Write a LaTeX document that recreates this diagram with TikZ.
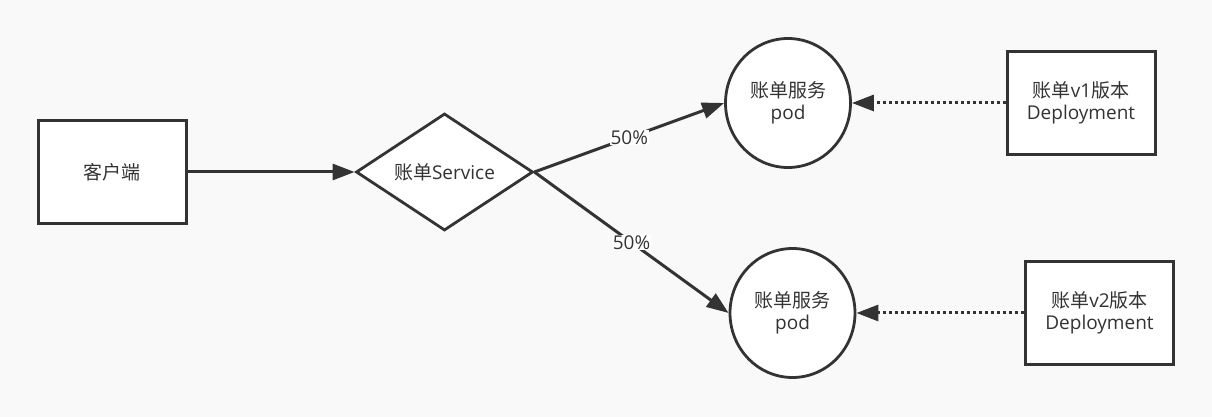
\documentclass[tikz,border=0pt]{standalone}
\usepackage{fontspec}
\setmainfont{Open Sans}
\newfontfamily\cjk{Noto Sans CJK SC}
\usepackage{tikz}
\usetikzlibrary{arrows.meta,positioning,shapes.geometric}
\usepackage{xcolor}
\definecolor{line}{HTML}{333333}
\definecolor{bg}{HTML}{F9F9F9}

\begin{document}
\begin{tikzpicture}[>={Triangle[length=22pt,width=16pt]},node distance=2cm,on grid,text=line,
          font=\fontsize{19}{22}\selectfont,
          box/.style={draw=line,fill=white,line width=3pt,minimum width=148pt,minimum height=103pt,align=center},
          pod/.style={ellipse,draw=line,fill=white,line width=2.8pt,minimum width=125pt,minimum height=129pt,align=center},
          svc/.style={diamond,draw=line,fill=white,line width=2.8pt,aspect=1.5,inner sep=0pt,minimum width=177pt,minimum height=117pt}]
          \path[fill=bg,use as bounding box] (-112.5pt,172pt) rectangle (1099.5pt,-245pt);
          \node[box]          (A)                              {{\cjk 客户端}};
          \node[svc]          (B) [right =332pt of A]          {{\cjk 账单}Service};
          \node[pod]          (C) [above right =69pt and 343.5pt of B]  {{\cjk 账单服务}\\pod};
          \node[pod]          (D) [below right =141pt and 348pt of B]   {{\cjk 账单服务}\\pod};
          \node[box]          (E) [right =293pt of C]          {{\cjk 账单}v1{\cjk 版本}\\Deployment};
          \node[box]          (F) [right =307pt of D]          {{\cjk 账单}v2{\cjk 版本}\\Deployment};
          \tikzset{mystyle/.style={->,draw=line,line width=3pt}}
          \tikzset{owner/.style={->,draw=line,line width=3pt,dash pattern=on 3pt off 3pt}}
          \tikzset{every node/.style={fill=white,inner sep=1pt}}
          \path (A.east)     edge [mystyle]          (B.west)
          (B.east)     edge [mystyle]    node   {50\%} (C.west)
          (B.east)     edge [mystyle]    node   {50\%} (D.west)
          (E.west)     edge [owner]            (C.east)
          (F.west)     edge [owner]            (D.east);
        \end{tikzpicture}
\end{document}
